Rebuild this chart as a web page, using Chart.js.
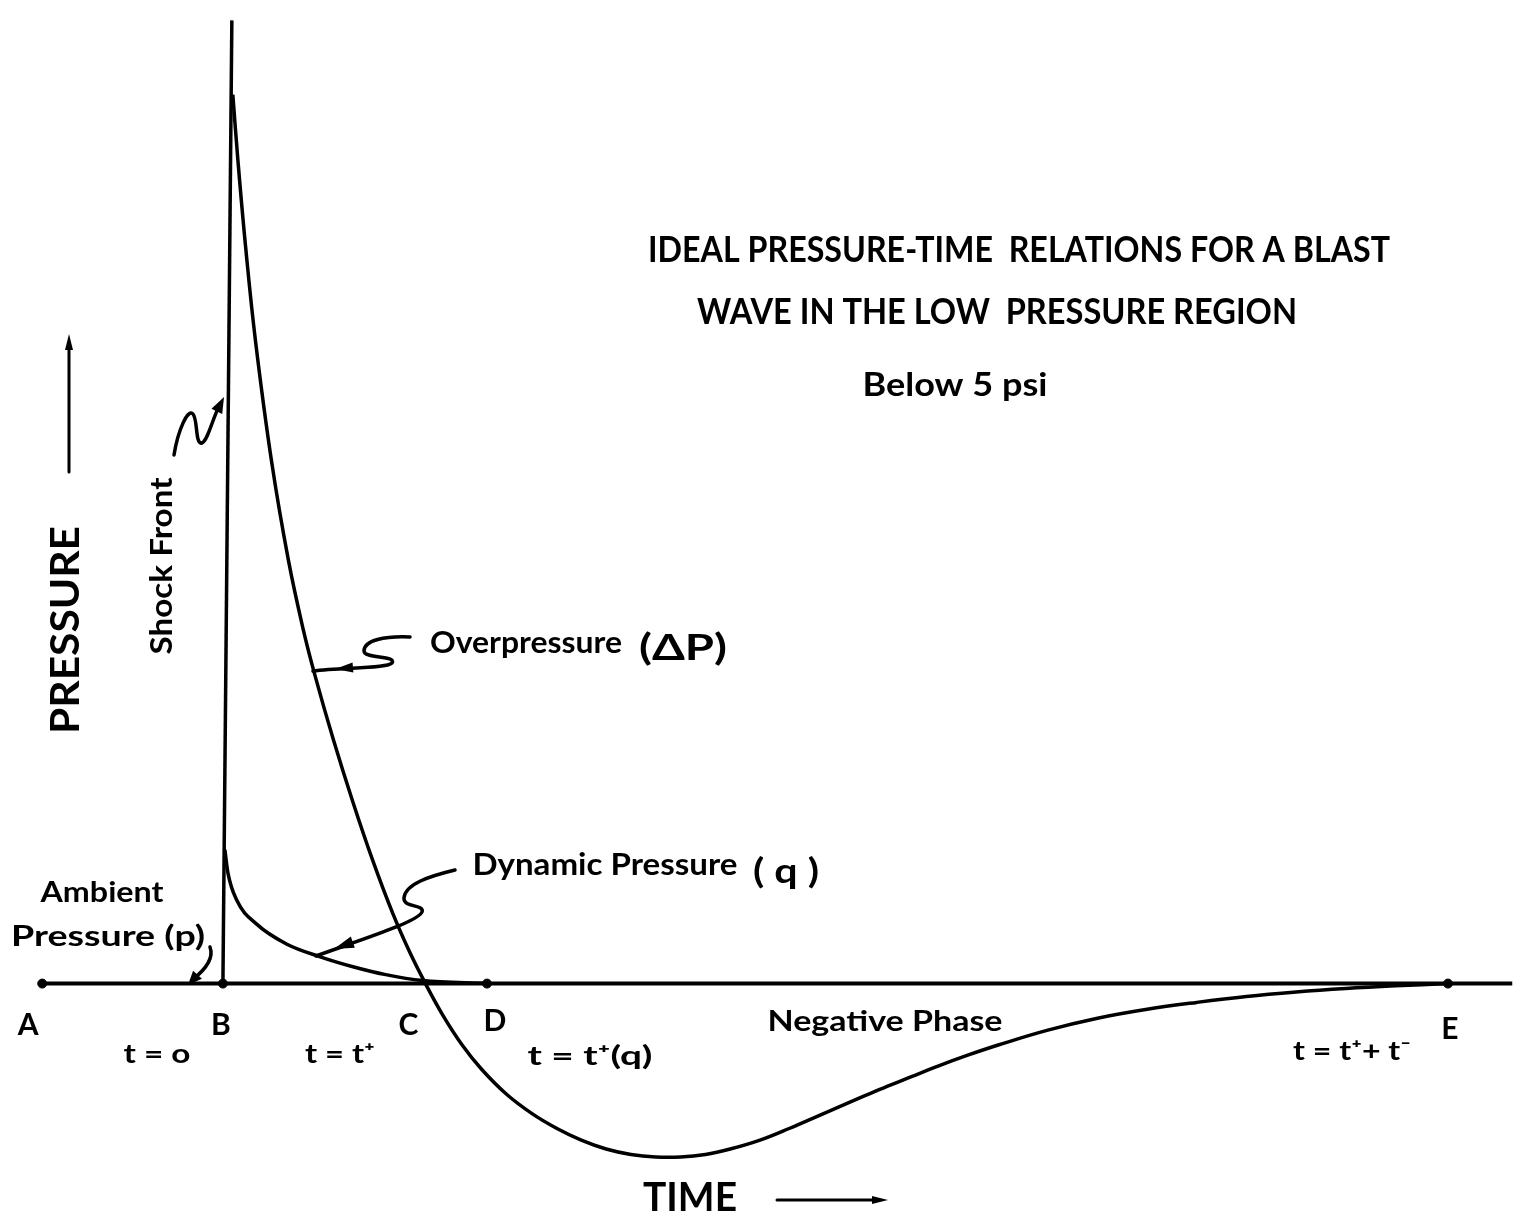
<!DOCTYPE html>
<html>
<head>
<meta charset="utf-8">
<script src="https://cdn.jsdelivr.net/npm/chart.js@4.4.1/dist/chart.umd.min.js"></script>
<style>
  html, body { margin: 0; padding: 0; background: #fff; }
  #wrap { width: 1518px; height: 1215px; }
</style>
</head>
<body>
<div id="wrap"><canvas id="blast" width="1518" height="1215"></canvas></div>
<script>
// data (time and pressure in arbitrary units, B = t 0, ambient = 0)
const over_t = [1.0, 1.5, 2.3, 3.3, 4.9, 6.6, 8.1, 9.3, 11.1, 13.1, 15.1, 17.1, 18.8, 20.4, 22.1, 24.1, 26.1, 28.6, 31.1, 33.6, 36.1, 38.6, 41.1, 43.6, 46.1, 48.6, 51.1, 54.1, 57.1, 60.1, 63.1, 66.1, 69.1, 72.1, 75.1, 78.1, 83.1, 88.1, 93.1, 98.1, 103.1, 108.1, 113.1, 118.1, 123.4];
const over_p = [89.7, 83.2, 74.2, 64.7, 52.7, 42.7, 35.7, 31.0, 24.7, 18.3, 12.4, 7.1, 3.2, 0, -3.1, -6.2, -8.7, -11.2, -13.1, -14.6, -15.8, -16.7, -17.25, -17.5, -17.5, -17.25, -16.7, -15.8, -14.6, -13.3, -12.0, -10.7, -9.5, -8.3, -7.2, -6.2, -4.7, -3.5, -2.6, -1.9, -1.3, -0.85, -0.5, -0.23, 0];

const dyn_t = [0.2, 0.5, 1.4, 3.4, 6.4, 9.8, 13.1, 16.4, 20.1, 26.6];
const dyn_p = [13.5, 11.2, 8.4, 6.0, 4.0, 2.7, 1.7, 0.9, 0.3, 0];

const shock_t = [0, 0.9];
const shock_p = [0, 97.2];

const base_t = [-18.2, 129.9];

const mark_names = ['A', 'B', 'C', 'D', 'E'];
const mark_t = [-18.2, 0, 20.4, 26.6, 123.4];
const dot_names = ['A', 'B', 'D', 'E'];

const time_labels = ['t = o', 't = t\u207A', 't = t\u207A(q)', 't = t\u207A+ t\u207B'];

const title_lines = ['IDEAL PRESSURE-TIME  RELATIONS FOR A BLAST', 'WAVE IN THE LOW  PRESSURE REGION', 'Below 5 psi'];

function pts(xs, ys) {
    return xs.map(function (x, i) { return {x: x, y: ys[i]}; });
}

const FONT = "Lato, 'DejaVu Sans', sans-serif";

// draws bold text, squeezed to a given width
function txt(ctx, s, x, y, size, w, rot) {
    ctx.save();
    ctx.translate(x, y);
    if (rot) ctx.rotate(rot);
    ctx.font = 'bold ' + size + 'px ' + FONT;
    const m = ctx.measureText(s).width;
    if (w) ctx.scale(w / m, 1);
    ctx.textAlign = 'center';
    ctx.textBaseline = 'middle';
    ctx.fillStyle = '#000';
    ctx.fillText(s, 0, 0);
    ctx.restore();
}

function head(ctx, x1, y1, x2, y2, len, wid) {
    const a = Math.atan2(y2 - y1, x2 - x1);
    ctx.beginPath();
    ctx.moveTo(x2, y2);
    ctx.lineTo(x2 - len * Math.cos(a) + wid * Math.sin(a), y2 - len * Math.sin(a) - wid * Math.cos(a));
    ctx.lineTo(x2 - len * Math.cos(a) - wid * Math.sin(a), y2 - len * Math.sin(a) + wid * Math.cos(a));
    ctx.closePath();
    ctx.fill();
}

const notes = {
    id: 'notes',
    afterDatasetsDraw(chart) {
        const ctx = chart.ctx;
        const xs = chart.scales.x, ys = chart.scales.y;
        const X = function (v) { return xs.getPixelForValue(v); };
        const Y0 = ys.getPixelForValue(0);

        ctx.save();
        ctx.fillStyle = '#000';
        ctx.strokeStyle = '#000';
        ctx.lineCap = 'round';
        ctx.lineJoin = 'round';

        // title
        txt(ctx, title_lines[0], 1019, 250, 36, 742);
        txt(ctx, title_lines[1], 997, 312, 36, 600);
        txt(ctx, title_lines[2], 955, 386, 32, 185);

        // point letters
        const letterDy = [42, 42, 42, 38, 46];
        const letterDx = [-14, -2, -17, 8, 2];
        mark_names.forEach(function (n, i) {
            txt(ctx, n, X(mark_t[i]) + letterDx[i], Y0 + letterDy[i], 30, 0);
        });

        // time labels
        txt(ctx, time_labels[0], 157, 1055, 26, 67);
        txt(ctx, time_labels[1], 340, 1055, 26, 70);
        txt(ctx, time_labels[2], 590, 1057, 26, 125);
        txt(ctx, time_labels[3], 1352, 1052, 26, 118);

        txt(ctx, 'Negative Phase', 885, 1022, 28, 235);

        // curve names
        txt(ctx, 'Overpressure', 526, 643, 30, 192);
        txt(ctx, '(\u0394P)', 683, 648, 36, 88);
        txt(ctx, 'Dynamic Pressure', 605, 865, 30, 265);
        txt(ctx, '( q )', 786, 872, 34, 66);
        txt(ctx, 'Ambient', 102, 893, 29, 123);
        txt(ctx, 'Pressure (p)', 108, 937, 29, 194);
        txt(ctx, 'Shock Front', 162, 566, 30, 177, -Math.PI / 2);

        // axis names with arrows
        txt(ctx, 'PRESSURE', 66, 630, 40, 208, -Math.PI / 2);
        txt(ctx, 'TIME', 690, 1198, 40, 94);
        ctx.lineWidth = 3;
        ctx.beginPath();
        ctx.moveTo(69, 472);
        ctx.lineTo(69, 345);
        ctx.stroke();
        head(ctx, 69, 400, 69, 334, 16, 4);
        ctx.beginPath();
        ctx.moveTo(777, 1200);
        ctx.lineTo(875, 1200);
        ctx.stroke();
        head(ctx, 800, 1200, 888, 1200, 16, 4);

        // squiggle pointers
        ctx.lineWidth = 3.5;
        // shock front
        ctx.beginPath();
        ctx.moveTo(174, 455);
        ctx.bezierCurveTo(178, 430, 188, 408, 193, 414);
        ctx.bezierCurveTo(198, 420, 195, 445, 202, 443);
        ctx.bezierCurveTo(208, 440, 212, 420, 220, 404);
        ctx.stroke();
        head(ctx, 210, 425, 224, 397, 16, 6);

        // overpressure
        ctx.beginPath();
        ctx.moveTo(410, 637);
        ctx.bezierCurveTo(385, 636, 364, 640, 364, 651);
        ctx.bezierCurveTo(364, 659, 397, 655, 392, 663);
        ctx.bezierCurveTo(386, 669, 340, 667, 313, 671);
        ctx.stroke();
        head(ctx, 360, 667, 335, 669, 18, 5);

        // dynamic pressure
        ctx.beginPath();
        ctx.moveTo(455, 870);
        ctx.bezierCurveTo(430, 876, 405, 884, 404, 898);
        ctx.bezierCurveTo(403, 908, 425, 904, 422, 912);
        ctx.bezierCurveTo(418, 922, 360, 940, 316, 956);
        ctx.stroke();
        head(ctx, 370, 936, 334, 949, 20, 6);

        // ambient
        ctx.beginPath();
        ctx.moveTo(210, 947);
        ctx.bezierCurveTo(214, 958, 205, 970, 192, 980);
        ctx.stroke();
        head(ctx, 200, 972, 188, 985, 14, 6);

        ctx.restore();
    }
};

const data_blast = {
    datasets: [
        {
            label: 'Ambient',
            data: pts(base_t, [0, 0]),
            borderColor: '#000',
            borderWidth: 4,
            pointRadius: 0,
            showLine: true
        },
        {
            label: 'Shock Front',
            data: pts(shock_t, shock_p),
            borderColor: '#000',
            borderWidth: 3.5,
            pointRadius: 0,
            showLine: true
        },
        {
            label: 'Overpressure',
            data: pts(over_t, over_p),
            borderColor: '#000',
            borderWidth: 3.5,
            pointRadius: 0,
            showLine: true,
            tension: 0.4
        },
        {
            label: 'Dynamic Pressure',
            data: pts(dyn_t, dyn_p),
            borderColor: '#000',
            borderWidth: 3.5,
            pointRadius: 0,
            showLine: true,
            cubicInterpolationMode: 'monotone'
        },
        {
            label: 'Marks',
            data: dot_names.map(function (n) {
                return {x: mark_t[mark_names.indexOf(n)], y: 0};
            }),
            backgroundColor: '#000',
            borderColor: '#000',
            pointRadius: 4.5,
            showLine: false
        }
    ]
};

const config_blast = {
    type: 'scatter',
    data: data_blast,
    options: {
        responsive: false,
        animation: false,
        layout: {padding: 0},
        scales: {
            x: {type: 'linear', min: -21.9, max: 129.9, display: false},
            y: {type: 'linear', min: -22.8, max: 98.7, display: false}
        },
        plugins: {
            legend: {display: false},
            tooltip: {enabled: false}
        }
    },
    plugins: [notes]
};

var blast = new Chart(document.getElementById('blast'), config_blast);
</script>
</body>
</html>
